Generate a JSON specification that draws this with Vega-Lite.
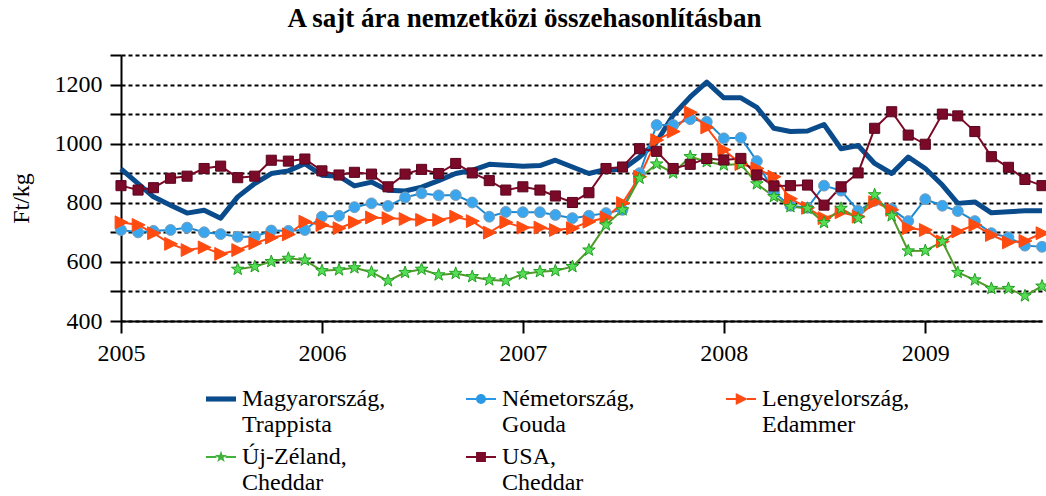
{
  "$schema": "https://vega.github.io/schema/vega-lite/v6.json",
  "width": 921,
  "height": 266,
  "autosize": "none",
  "padding": {"left": 121, "top": 55, "right": 4, "bottom": 175},
  "background": "white",
  "title": {"text": "A sajt ára nemzetközi összehasonlításban", "font": "'Liberation Serif', 'DejaVu Serif', serif", "fontSize": 27, "fontWeight": "bold", "color": "black", "anchor": "middle", "frame": "group", "dx": -57, "offset": 21},
  "config": {"view": {"stroke": null}, "font": "'Liberation Serif', 'DejaVu Serif', serif"},
  "data": {"values": [
    {"d": "2005-01-01", "HU": 915, "DE": 708, "PL": 734, "NZ": null, "US": 858},
    {"d": "2005-02-01", "HU": 865, "DE": 700, "PL": 725, "NZ": null, "US": 843},
    {"d": "2005-03-01", "HU": 820, "DE": 705, "PL": 697, "NZ": null, "US": 851},
    {"d": "2005-04-01", "HU": 792, "DE": 708, "PL": 661, "NZ": null, "US": 883},
    {"d": "2005-05-01", "HU": 765, "DE": 716, "PL": 640, "NZ": null, "US": 890},
    {"d": "2005-06-01", "HU": 775, "DE": 700, "PL": 649, "NZ": null, "US": 916},
    {"d": "2005-07-01", "HU": 748, "DE": 694, "PL": 627, "NZ": null, "US": 924},
    {"d": "2005-08-01", "HU": 820, "DE": 685, "PL": 640, "NZ": 575, "US": 885},
    {"d": "2005-09-01", "HU": 865, "DE": 685, "PL": 663, "NZ": 584, "US": 890},
    {"d": "2005-10-01", "HU": 899, "DE": 706, "PL": 682, "NZ": 601, "US": 944},
    {"d": "2005-11-01", "HU": 908, "DE": 705, "PL": 693, "NZ": 612, "US": 941},
    {"d": "2005-12-01", "HU": 932, "DE": 708, "PL": 736, "NZ": 606, "US": 948},
    {"d": "2006-01-01", "HU": 893, "DE": 753, "PL": 725, "NZ": 570, "US": 908},
    {"d": "2006-02-01", "HU": 890, "DE": 756, "PL": 714, "NZ": 573, "US": 894},
    {"d": "2006-03-01", "HU": 857, "DE": 785, "PL": 734, "NZ": 580, "US": 903},
    {"d": "2006-04-01", "HU": 870, "DE": 798, "PL": 750, "NZ": 565, "US": 897},
    {"d": "2006-05-01", "HU": 842, "DE": 789, "PL": 748, "NZ": 536, "US": 854},
    {"d": "2006-06-01", "HU": 840, "DE": 818, "PL": 745, "NZ": 564, "US": 897},
    {"d": "2006-07-01", "HU": 853, "DE": 832, "PL": 742, "NZ": 575, "US": 913},
    {"d": "2006-08-01", "HU": 875, "DE": 825, "PL": 742, "NZ": 556, "US": 899},
    {"d": "2006-09-01", "HU": 899, "DE": 826, "PL": 753, "NZ": 561, "US": 933},
    {"d": "2006-10-01", "HU": 910, "DE": 801, "PL": 738, "NZ": 550, "US": 901},
    {"d": "2006-11-01", "HU": 930, "DE": 753, "PL": 699, "NZ": 539, "US": 875},
    {"d": "2006-12-01", "HU": 927, "DE": 769, "PL": 734, "NZ": 536, "US": 843},
    {"d": "2007-01-01", "HU": 924, "DE": 768, "PL": 716, "NZ": 559, "US": 854},
    {"d": "2007-02-01", "HU": 926, "DE": 768, "PL": 716, "NZ": 567, "US": 843},
    {"d": "2007-03-01", "HU": 944, "DE": 759, "PL": 708, "NZ": 570, "US": 823},
    {"d": "2007-04-01", "HU": 921, "DE": 748, "PL": 714, "NZ": 584, "US": 801},
    {"d": "2007-05-01", "HU": 899, "DE": 756, "PL": 736, "NZ": 640, "US": 834},
    {"d": "2007-06-01", "HU": 913, "DE": 765, "PL": 750, "NZ": 725, "US": 916},
    {"d": "2007-07-01", "HU": 913, "DE": 776, "PL": 799, "NZ": 776, "US": 921},
    {"d": "2007-08-01", "HU": 955, "DE": 900, "PL": 888, "NZ": 883, "US": 983},
    {"d": "2007-09-01", "HU": 1006, "DE": 1063, "PL": 1012, "NZ": 931, "US": 974},
    {"d": "2007-10-01", "HU": 1096, "DE": 1063, "PL": 1041, "NZ": 901, "US": 916},
    {"d": "2007-11-01", "HU": 1158, "DE": 1083, "PL": 1106, "NZ": 956, "US": 930},
    {"d": "2007-12-01", "HU": 1208, "DE": 1074, "PL": 1055, "NZ": 939, "US": 950},
    {"d": "2008-01-01", "HU": 1155, "DE": 1018, "PL": 979, "NZ": 928, "US": 945},
    {"d": "2008-02-01", "HU": 1155, "DE": 1020, "PL": 931, "NZ": 931, "US": 950},
    {"d": "2008-03-01", "HU": 1123, "DE": 941, "PL": 916, "NZ": 864, "US": 894},
    {"d": "2008-04-01", "HU": 1052, "DE": 835, "PL": 888, "NZ": 821, "US": 857},
    {"d": "2008-05-01", "HU": 1041, "DE": 790, "PL": 814, "NZ": 787, "US": 858},
    {"d": "2008-06-01", "HU": 1043, "DE": 783, "PL": 783, "NZ": 781, "US": 860},
    {"d": "2008-07-01", "HU": 1065, "DE": 858, "PL": 748, "NZ": 733, "US": 792},
    {"d": "2008-08-01", "HU": 983, "DE": 841, "PL": 768, "NZ": 781, "US": 854},
    {"d": "2008-09-01", "HU": 994, "DE": 773, "PL": 753, "NZ": 748, "US": 901},
    {"d": "2008-10-01", "HU": 933, "DE": 807, "PL": 802, "NZ": 827, "US": 1052},
    {"d": "2008-11-01", "HU": 899, "DE": 779, "PL": 776, "NZ": 756, "US": 1108},
    {"d": "2008-12-01", "HU": 955, "DE": 738, "PL": 714, "NZ": 637, "US": 1029},
    {"d": "2009-01-01", "HU": 916, "DE": 812, "PL": 708, "NZ": 638, "US": 998},
    {"d": "2009-02-01", "HU": 860, "DE": 790, "PL": 669, "NZ": 669, "US": 1100},
    {"d": "2009-03-01", "HU": 798, "DE": 772, "PL": 703, "NZ": 564, "US": 1094},
    {"d": "2009-04-01", "HU": 803, "DE": 738, "PL": 725, "NZ": 539, "US": 1041},
    {"d": "2009-05-01", "HU": 766, "DE": 697, "PL": 691, "NZ": 510, "US": 956},
    {"d": "2009-06-01", "HU": 770, "DE": 683, "PL": 666, "NZ": 510, "US": 920},
    {"d": "2009-07-01", "HU": 773, "DE": 655, "PL": 671, "NZ": 485, "US": 879},
    {"d": "2009-08-01", "HU": 773, "DE": 651, "PL": 697, "NZ": 518, "US": 858}
  ]},
  "transform": [
    {"fold": ["HU", "DE", "PL", "NZ", "US"], "as": ["code", "value"]},
    {"lookup": "code", "from": {"data": {"values": [
      {"code": "HU", "series": "Magyarország, Trappista"},
      {"code": "DE", "series": "Németország, Gouda"},
      {"code": "PL", "series": "Lengyelország, Edammer"},
      {"code": "NZ", "series": "Új-Zéland, Cheddar"},
      {"code": "US", "series": "USA, Cheddar"}
    ]}, "key": "code", "fields": ["series"]}}
  ],
  "encoding": {
    "x": {
      "field": "d", "type": "temporal",
      "scale": {"type": "utc", "domain": [{"year": 2005, "month": 1, "date": 1, "utc": true}, {"year": 2009, "month": 8, "date": 1, "utc": true}]},
      "axis": {
        "values": [{"year": 2005, "utc": true}, {"year": 2006, "utc": true}, {"year": 2007, "utc": true}, {"year": 2008, "utc": true}, {"year": 2009, "utc": true}],
        "format": "%Y", "grid": false, "title": null,
        "domainColor": "black", "domainWidth": 2, "tickColor": "black", "tickWidth": 2, "tickSize": 12,
        "labelFont": "'Liberation Serif', 'DejaVu Serif', serif", "labelFontSize": 24, "labelColor": "black", "labelPadding": 8, "labelFlush": false
      }
    },
    "y": {
      "field": "value", "type": "quantitative",
      "scale": {"domain": [400, 1300], "nice": false, "zero": false},
      "axis": {
        "values": [400, 500, 600, 700, 800, 900, 1000, 1100, 1200, 1300],
        "labelExpr": "datum.value % 200 == 0 ? datum.label : ''",
        "format": "d",
        "grid": true, "gridColor": "black", "gridDash": [4, 3], "gridWidth": 1.8,
        "domainColor": "black", "domainWidth": 2, "tickColor": "black", "tickWidth": 2, "tickSize": 11,
        "labelFont": "'Liberation Serif', 'DejaVu Serif', serif", "labelFontSize": 24, "labelColor": "black", "labelPadding": 8,
        "title": "Ft/kg", "titleFont": "'Liberation Serif', 'DejaVu Serif', serif", "titleFontSize": 24, "titleFontWeight": "normal", "titleColor": "black", "titlePadding": 21, "titleY": 143
      }
    }
  },
  "layer": [
    {
      "transform": [{"filter": "datum.code == 'HU'"}],
      "mark": {"type": "line", "strokeWidth": 5, "strokeJoin": "round"},
      "encoding": {"color": {"field": "series", "type": "nominal", "scale": {"domain": ["Magyarország, Trappista"], "range": ["#0a4b8c"]}, "legend": null}}
    },
    {
      "transform": [{"filter": "datum.code != 'HU'"}],
      "mark": {"type": "line", "strokeWidth": 2},
      "encoding": {"color": {"field": "series", "type": "nominal", "scale": {"domain": ["Németország, Gouda", "Lengyelország, Edammer", "Új-Zéland, Cheddar", "USA, Cheddar"], "range": ["#1a8ad4", "#ff4a14", "#4f9a28", "#7a0a28"]}, "legend": null}}
    },
    {
      "transform": [{"filter": "datum.code != 'HU'"}],
      "mark": {"type": "point", "filled": true, "size": 784, "strokeWidth": 1, "opacity": 1},
      "encoding": {
        "shape": {"field": "series", "type": "nominal", "scale": {"domain": ["Németország, Gouda", "Lengyelország, Edammer", "Új-Zéland, Cheddar", "USA, Cheddar"], "range": [
          "M0.39,0A0.39,0.39,0,1,1,-0.39,0A0.39,0.39,0,1,1,0.39,0Z",
          "M-0.42,-0.46L0.5,0L-0.42,0.46Z",
          "M0,-0.47L0.112,-0.154L0.447,-0.145L0.181,0.059L0.276,0.38L0,0.19L-0.276,0.38L-0.181,0.059L-0.447,-0.145L-0.112,-0.154Z",
          "M-0.36,-0.36H0.36V0.36H-0.36Z"
        ]}, "legend": null},
        "fill": {"field": "series", "type": "nominal", "scale": {"domain": ["Németország, Gouda", "Lengyelország, Edammer", "Új-Zéland, Cheddar", "USA, Cheddar"], "range": ["#3aa6ee", "#ff4a10", "#55dd55", "#7a0a28"]}, "legend": null},
        "stroke": {"field": "series", "type": "nominal", "scale": {"domain": ["Németország, Gouda", "Lengyelország, Edammer", "Új-Zéland, Cheddar", "USA, Cheddar"], "range": ["#7d9fb8", "#ff4a10", "#22a022", "#5c0520"]}, "legend": null}
      }
    },
    {
      "transform": [{"filter": "datum.value < 0"}],
      "mark": {"type": "point", "filled": true},
      "encoding": {
        "shape": {"field": "series", "type": "nominal", "scale": {"domain": ["Magyarország, Trappista", "Németország, Gouda", "Lengyelország, Edammer", "Új-Zéland, Cheddar", "USA, Cheddar"], "range": [
          "M-1,-0.17H1V0.17H-1Z",
          "M-1,-0.07H-0.3V0.07H-1Z M0.3,-0.07H1V0.07H0.3Z M0.33,0A0.33,0.33,0,1,1,-0.33,0A0.33,0.33,0,1,1,0.33,0Z",
          "M-1,-0.07H-0.3V0.07H-1Z M0.4,-0.07H1V0.07H0.4Z M-0.35,-0.4L0.45,0L-0.35,0.4Z",
          "M-1,-0.07H-0.3V0.07H-1Z M0.3,-0.07H1V0.07H0.3Z M0,-0.42L0.1,-0.137L0.4,-0.13L0.162,0.053L0.247,0.34L0,0.17L-0.247,0.34L-0.162,0.053L-0.4,-0.13L-0.1,-0.137Z",
          "M-1,-0.07H-0.3V0.07H-1Z M0.3,-0.07H1V0.07H0.3Z M-0.33,-0.33H0.33V0.33H-0.33Z"
        ]}, "legend": {"orient": "none", "legendX": 85, "legendY": 329, "direction": "horizontal", "columns": 3, "gridAlign": "all", "title": null, "labelExpr": "[split(datum.label, ', ')[0] + ',', split(datum.label, ', ')[1]]", "labelFont": "'Liberation Serif', 'DejaVu Serif', serif", "labelFontSize": 24, "labelLineHeight": 27, "labelColor": "black", "labelBaseline": "middle", "labelLimit": 400, "labelOffset": 6, "symbolSize": 900, "symbolStrokeWidth": 0, "symbolOpacity": 1, "columnPadding": 76, "rowPadding": 5, "padding": 0}},
        "fill": {"field": "series", "type": "nominal", "scale": {"domain": ["Magyarország, Trappista", "Németország, Gouda", "Lengyelország, Edammer", "Új-Zéland, Cheddar", "USA, Cheddar"], "range": ["#0a4b8c", "#2a98e4", "#ff4a14", "#3fb23a", "#7a0a28"]}, "legend": {"orient": "none", "legendX": 85, "legendY": 329, "direction": "horizontal", "columns": 3, "gridAlign": "all", "title": null, "labelExpr": "[split(datum.label, ', ')[0] + ',', split(datum.label, ', ')[1]]", "labelFont": "'Liberation Serif', 'DejaVu Serif', serif", "labelFontSize": 24, "labelLineHeight": 27, "labelColor": "black", "labelBaseline": "middle", "labelLimit": 400, "labelOffset": 6, "symbolSize": 900, "symbolStrokeWidth": 0, "symbolOpacity": 1, "columnPadding": 76, "rowPadding": 5, "padding": 0}}
      }
    }
  ],
  "resolve": {"scale": {"color": "independent", "shape": "independent", "fill": "independent", "stroke": "independent"}}
}
